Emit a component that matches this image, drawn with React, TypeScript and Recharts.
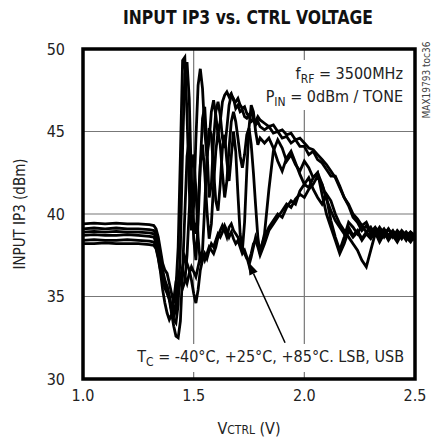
import React from "react";
import { LineChart, Line, XAxis, YAxis, CartesianGrid, ReferenceArea, ReferenceLine } from "recharts";

// control voltage (V)
const vctrl = [
  1.0, 1.05, 1.1, 1.15, 1.2, 1.25, 1.3,
  1.32, 1.33, 1.34, 1.35, 1.36, 1.37, 1.38, 1.39, 1.4, 1.41, 1.42, 1.43, 1.44, 1.45,
  1.46, 1.47, 1.48, 1.49, 1.5, 1.51, 1.52, 1.53, 1.54, 1.55, 1.56, 1.57, 1.58, 1.59,
  1.6, 1.61, 1.62, 1.63, 1.64, 1.65, 1.66, 1.67, 1.68, 1.69, 1.7, 1.71, 1.72, 1.73,
  1.74, 1.75, 1.76, 1.77, 1.78, 1.79, 1.8,
  1.82, 1.84, 1.86, 1.88, 1.9, 1.92, 1.94, 1.96, 1.98, 2.0, 2.02, 2.04, 2.06, 2.08,
  2.1, 2.12, 2.14, 2.16, 2.18, 2.2, 2.22, 2.24, 2.26, 2.28, 2.3, 2.32, 2.34, 2.36,
  2.38, 2.4, 2.42, 2.44, 2.46, 2.48, 2.5,
];

// input IP3 (dBm), six traces (3 temperatures x LSB/USB)
const traceA = [
  39.4, 39.45, 39.4, 39.45, 39.4, 39.4, 39.35,
  39.3, 39.1, 38.6, 37.8, 37.0, 36.6, 36.4, 35.8, 35.2, 34.6, 35.5, 38.0, 43.5, 49.3,
  49.5, 46.0, 41.5, 39.0, 40.5, 44.5, 47.8, 48.8, 47.6, 45.0, 43.5, 44.5, 46.2, 46.9,
  46.0, 44.8, 45.6, 46.8, 47.2, 47.4, 47.1, 47.3, 46.9, 46.8, 47.0, 46.6, 46.4, 46.5,
  46.1, 45.9, 46.2, 45.8, 45.6, 45.9, 45.7,
  45.5, 45.3, 45.4, 45.0, 45.1, 44.8, 44.9, 44.5, 44.6, 44.3, 44.0, 43.9, 43.6, 43.3,
  43.0, 42.6, 42.2, 41.6, 41.0, 40.6, 40.0, 39.7, 39.3, 39.5, 38.9, 39.2, 38.8, 39.1,
  38.7, 39.0, 38.6, 39.0, 38.7, 38.9, 38.6,
];
const traceB = [
  39.1, 39.15, 39.1, 39.15, 39.1, 39.1, 39.05,
  39.0, 38.8, 38.2, 37.4, 36.6, 36.0, 35.6, 35.0, 34.2, 33.6, 33.4, 34.5, 38.0, 44.0,
  48.5, 49.2, 47.0, 42.0, 38.5, 37.2, 39.5, 43.0, 45.8, 46.5, 44.0, 41.0, 41.8, 44.5,
  46.2, 46.8, 46.0, 44.6, 44.0, 45.2, 46.6, 47.2, 47.0, 46.4, 46.6, 46.2, 46.3, 45.9,
  45.8, 46.0, 45.6, 45.7, 45.4, 45.6, 45.3,
  45.1, 45.3, 44.9, 45.0, 44.6, 44.7, 44.3, 44.5, 44.1, 44.1, 43.6, 43.8, 43.3, 43.1,
  42.7, 42.3, 42.3, 41.7, 41.0, 40.5, 39.8, 39.5, 39.0, 39.3, 38.8, 39.1, 38.6, 39.0,
  38.5, 38.9, 38.7, 38.8, 38.4, 38.9, 38.7,
];
const traceC = [
  38.9, 38.95, 38.9, 38.95, 38.9, 38.9, 38.85,
  38.8, 38.6, 38.0, 37.2, 36.2, 35.5, 35.2, 34.8, 34.0, 33.2, 32.6, 32.5, 33.5, 36.5,
  40.0, 43.5, 44.5, 42.0, 39.5, 38.8, 40.5, 43.0, 44.2, 42.5, 40.2, 38.5, 39.4, 41.8,
  43.8, 45.0, 44.2, 42.5, 41.0, 42.0, 44.0, 45.6, 46.2, 45.6, 44.6, 43.5, 42.8, 43.6,
  44.8, 45.2, 44.2, 42.5, 40.5, 38.6, 37.6,
  38.8, 41.5, 43.8, 44.5, 44.0, 43.2, 43.6, 43.0, 42.6, 43.2, 42.8, 42.2, 42.5, 41.8,
  41.0, 39.6, 38.6, 37.8, 38.6, 39.5, 39.2, 38.8, 39.3, 38.9, 39.2, 38.7, 39.0, 38.6,
  39.1, 38.7, 38.9, 38.5, 38.9, 38.6, 38.8,
];
const traceD = [
  38.7, 38.75, 38.7, 38.7, 38.75, 38.7, 38.65,
  38.6, 38.3, 37.6, 36.8, 36.0, 35.6, 35.3, 34.9, 34.4, 34.0, 34.6, 35.8, 36.2, 35.5,
  35.9, 37.5, 40.2, 42.8, 43.6, 41.5, 38.6, 37.0, 37.8, 40.5, 43.5, 45.2, 44.8, 42.6,
  40.8, 40.2, 41.8, 44.0, 44.8, 43.2, 42.0, 43.5, 45.0, 43.8, 41.2, 38.8, 37.8, 39.5,
  42.6, 45.2, 46.6, 46.2, 45.0, 44.2, 44.6,
  44.3, 44.6, 44.0, 43.2, 42.6, 43.4, 43.8, 43.1, 42.4, 41.8, 42.2, 41.5, 41.0, 40.6,
  41.2, 40.8, 40.0, 39.4, 39.0, 38.6, 38.2, 37.8, 37.2, 36.8, 37.8, 38.8, 39.2, 38.8,
  39.1, 38.6, 39.0, 38.7, 38.9, 38.5, 38.8,
];
const traceE = [
  38.4, 38.45, 38.4, 38.4, 38.45, 38.4, 38.35,
  38.3, 38.0, 37.4, 36.6, 36.0, 35.8, 35.6, 35.0, 34.2, 33.8, 34.2, 35.2, 36.0, 36.6,
  36.2, 35.8, 36.4, 36.8, 36.5, 36.2, 36.8, 37.4, 37.6, 37.2, 37.6, 38.0, 37.8, 37.6,
  38.0, 38.6, 39.0, 39.3, 39.0, 38.6, 39.2, 39.4, 39.0, 38.8, 38.6, 38.3, 38.0, 37.6,
  37.3, 37.2, 37.6, 38.2, 38.4, 38.0, 37.5,
  38.2, 39.0, 39.4, 39.8, 40.2, 40.6, 40.4, 40.9, 41.2, 41.0, 41.5, 41.8, 42.3, 41.8,
  40.9, 40.2, 39.6, 39.2, 38.8, 39.2, 38.7, 39.0, 38.5, 38.9, 38.6, 39.1, 38.5, 38.9,
  38.4, 38.8, 38.5, 38.9, 38.6, 38.3, 38.7,
];
const traceF = [
  38.2, 38.2, 38.25, 38.2, 38.2, 38.2, 38.15,
  38.1, 37.9, 37.3, 36.5, 35.4, 34.6, 34.0, 33.6, 33.9, 34.8, 35.9, 36.4, 36.0, 36.8,
  37.4, 37.0, 36.6, 36.0, 35.2, 34.6, 35.4, 36.6, 37.2, 37.6, 37.3, 37.8, 38.2, 38.0,
  38.4, 38.8, 38.6, 38.9, 39.3, 39.0, 38.6, 38.9, 38.5, 38.2, 38.4, 38.0, 37.6, 37.8,
  37.4, 36.9, 37.4, 38.0, 38.6, 38.2, 37.8,
  38.6, 39.2, 39.6, 40.0, 39.8, 40.4, 40.8, 40.6, 41.4, 41.8, 41.6, 42.2, 42.5, 41.2,
  40.0, 39.2, 38.4, 37.6, 38.2, 39.0, 38.6, 38.9, 38.4, 38.8, 38.5, 38.9, 38.3, 38.8,
  38.5, 38.7, 38.3, 38.8, 38.6, 38.7, 38.4,
];

const xTicks = [1.0, 1.5, 2.0, 2.5];
const yTicks = [30, 35, 40, 45, 50];

const data = vctrl.map((v, i) => ({
  v,
  a: traceA[i],
  b: traceB[i],
  c: traceC[i],
  d: traceD[i],
  e: traceE[i],
  f: traceF[i],
}));

const keys = ["a", "b", "c", "d", "e", "f"];
const font = "'Liberation Sans Narrow', 'DejaVu Sans Condensed', sans-serif";

function Arrow(props: any) {
  const { x1, y1, x2, y2 } = props;
  const ang = Math.atan2(y2 - y1, x2 - x1);
  const len = 13;
  const w = 4.5;
  const bx = x2 - len * Math.cos(ang);
  const by = y2 - len * Math.sin(ang);
  const px = -Math.sin(ang) * w;
  const py = Math.cos(ang) * w;
  return (
    <g>
      <line x1={x1} y1={y1} x2={bx} y2={by} stroke="#000" strokeWidth={1.5} />
      <polygon points={`${x2},${y2} ${bx + px},${by + py} ${bx - px},${by - py}`} fill="#000" />
    </g>
  );
}

export default function App() {
  return (
    <div style={{ position: "absolute", left: 0, top: 0, width: 432, height: 439, background: "#fff" }}>
      <LineChart
        width={432}
        height={439}
        data={data}
        margin={{ top: 49, right: 17, bottom: 0, left: 0 }}
      >
        <CartesianGrid stroke="#777" strokeWidth={1.2} />
        <XAxis
          dataKey="v"
          type="number"
          domain={[1, 2.5]}
          ticks={xTicks}
          tickFormatter={(v: number) => v.toFixed(1)}
          axisLine={false}
          tickLine={false}
          tickSize={0}
          tickMargin={11}
          height={60}
          tick={{ fontFamily: font, fontSize: 16, fill: "#222" }}
        />
        <YAxis
          type="number"
          domain={[30, 50]}
          ticks={yTicks}
          axisLine={false}
          tickLine={false}
          tickSize={0}
          tickMargin={18}
          width={83}
          tick={{ fontFamily: font, fontSize: 16, fill: "#222" }}
        />
        {keys.map((k) => (
          <Line
            key={k}
            dataKey={k}
            type="linear"
            stroke="#000"
            strokeWidth={2.8}
            dot={false}
            isAnimationActive={false}
          />
        ))}
        <ReferenceArea x1={1} x2={2.5} y1={30} y2={50} fill="none" stroke="#000" strokeWidth={3.5} ifOverflow="visible" />
        <ReferenceLine
          segment={[{ x: 1.913, y: 32.2 }, { x: 1.746, y: 37.1 }]}
          shape={Arrow}
          ifOverflow="visible"
        />
      </LineChart>
      <svg
        width={432}
        height={439}
        style={{ position: "absolute", left: 0, top: 0, pointerEvents: "none" }}
      >
        <text x={248} y={24} textAnchor="middle" fontFamily={font} fontWeight="bold" fontSize={19} textLength={250} lengthAdjust="spacingAndGlyphs" fill="#111">
          INPUT IP3 vs. CTRL VOLTAGE
        </text>
        <rect x={296} y={60} width={112} height={50} fill="#fff" />
        <text x={403} y={79} textAnchor="end" fontFamily={font} fontSize={16} fill="#222">
          f<tspan fontSize={12} dy={4}>RF</tspan><tspan dy={-4}> = 3500MHz</tspan>
        </text>
        <text x={403} y={102} textAnchor="end" fontFamily={font} fontSize={16} fill="#222">
          P<tspan fontSize={12} dy={4}>IN</tspan><tspan dy={-4}> = 0dBm / TONE</tspan>
        </text>
        <rect x={134} y={344} width={274} height={28} fill="#fff" />
        <text x={404} y={362} textAnchor="end" fontFamily={font} fontSize={16} fill="#222">
          T<tspan fontSize={12} dy={4}>C</tspan><tspan dy={-4}> = -40°C, +25°C, +85°C. LSB, USB</tspan>
        </text>
        <text x={20} y={214} transform="rotate(-90 20 214)" textAnchor="middle" dominantBaseline="central" fontFamily={font} fontSize={15} fill="#222">
          INPUT IP3 (dBm)
        </text>
        <text x={249} y={434} textAnchor="middle" fontFamily={font} fontSize={16} fill="#222">
          V<tspan fontSize={12}>CTRL</tspan><tspan fontSize={16}> (V)</tspan>
        </text>
        <text x={426} y={80} transform="rotate(-90 426 80)" textAnchor="middle" dominantBaseline="central" fontFamily={font} fontSize={10} fill="#444">
          MAX19793 toc36
        </text>
      </svg>
    </div>
  );
}
